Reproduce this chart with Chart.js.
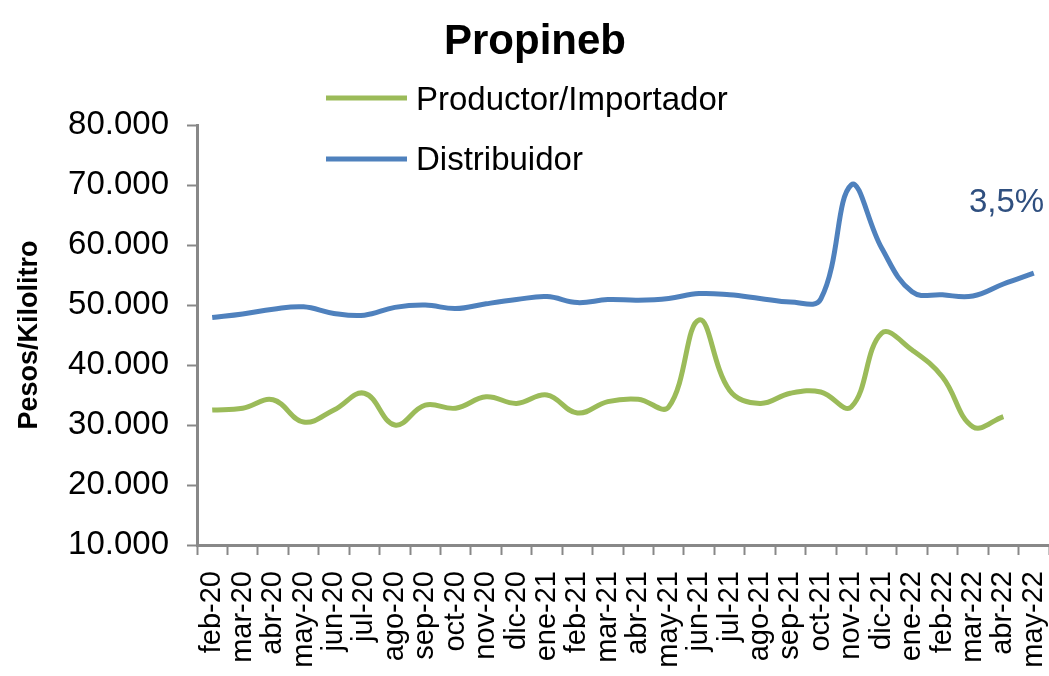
<!DOCTYPE html>
<html>
<head>
<meta charset="utf-8">
<script src="https://cdn.jsdelivr.net/npm/chart.js@4.4.0/dist/chart.umd.min.js"></script>
<style>
  html, body { margin: 0; padding: 0; background: #fff; }
  #wrap { width: 1049px; height: 676px; }
</style>
</head>
<body>
<div id="wrap"><canvas id="grafico" width="1049" height="676"></canvas></div>
<script>
// meses (eje x)
const meses = ['feb-20', 'mar-20', 'abr-20', 'may-20', 'jun-20', 'jul-20', 'ago-20', 'sep-20', 'oct-20', 'nov-20',
  'dic-20', 'ene-21', 'feb-21', 'mar-21', 'abr-21', 'may-21', 'jun-21', 'jul-21', 'ago-21', 'sep-21',
  'oct-21', 'nov-21', 'dic-21', 'ene-22', 'feb-22', 'mar-22', 'abr-22', 'may-22'];

// precios en pesos/kilolitro
const productor = [32500, 32800, 34200, 30500, 32500, 35300, 30000, 33300, 32800, 34700,
  33600, 35000, 32000, 33900, 34300, 33000, 47500, 35800, 33600, 35300,
  35500, 33000, 45300, 42500, 38000, 29700, 31400, null];

const distribuidor = [47900, 48500, 49300, 49700, 48600, 48300, 49600, 50000, 49400, 50200,
  50900, 51400, 50400, 50900, 50800, 51100, 51900, 51700, 51100, 50500,
  51000, 70000, 59500, 52200, 51700, 51500, 53500, 55300];

const ticksY = [10000, 20000, 30000, 40000, 50000, 60000, 70000, 80000];

const VERDE = '#9BBB59';
const AZUL = '#4F81BD';
const FUENTE = '"Liberation Sans", Arial, sans-serif';

// titulo, leyenda y nota "3,5%" dibujados a mano
const extras = {
  id: 'extras',
  afterDraw(chart) {
    const ctx = chart.ctx;
    ctx.save();
    ctx.fillStyle = '#000';
    ctx.font = 'bold 42px ' + FUENTE;
    ctx.textAlign = 'center';
    ctx.textBaseline = 'alphabetic';
    ctx.fillText('Propineb', 535, 54);

    // leyenda
    const items = [
      { txt: 'Productor/Importador', color: VERDE, y: 98, base: 110 },
      { txt: 'Distribuidor', color: AZUL, y: 159, base: 170 }
    ];
    ctx.textAlign = 'left';
    ctx.font = '33px ' + FUENTE;
    items.forEach(it => {
      ctx.strokeStyle = it.color;
      ctx.lineWidth = 5;
      ctx.beginPath();
      ctx.moveTo(326, it.y);
      ctx.lineTo(407, it.y);
      ctx.stroke();
      ctx.fillStyle = '#000';
      ctx.fillText(it.txt, 416, it.base);
    });

    ctx.fillStyle = '#2F4F7F';
    ctx.font = '33px ' + FUENTE;
    ctx.fillText('3,5%', 969, 212);
    ctx.restore();
  }
};

new Chart(document.getElementById('grafico'), {
  type: 'line',
  data: {
    labels: meses,
    datasets: [
      {
        label: 'Productor/Importador',
        data: productor,
        borderColor: VERDE,
        backgroundColor: VERDE,
        borderWidth: 5,
        pointRadius: 0,
        tension: 0.4,
        fill: false
      },
      {
        label: 'Distribuidor',
        data: distribuidor,
        borderColor: AZUL,
        backgroundColor: AZUL,
        borderWidth: 5,
        pointRadius: 0,
        tension: 0.4,
        fill: false
      }
    ]
  },
  options: {
    responsive: false,
    animation: false,
    layout: { padding: { top: 125, left: 0, right: 0, bottom: 0 } },
    plugins: {
      legend: { display: false },
      title: { display: false },
      tooltip: { enabled: false }
    },
    scales: {
      x: {
        type: 'category',
        offset: true,
        afterFit: s => { s.height = 131; s.paddingRight = 0; s.paddingLeft = 0; },
        grid: {
          offset: true,
          drawOnChartArea: false,
          drawTicks: true,
          tickLength: 10,
          tickColor: '#888',
          tickWidth: 2
        },
        border: { color: '#888', width: 3 },
        ticks: {
          autoSkip: false,
          maxRotation: 90,
          minRotation: 90,
          padding: 16,
          color: '#000',
          font: { family: FUENTE, size: 29 }
        }
      },
      y: {
        min: 10000,
        max: 80000,
        afterFit: s => { s.width = 197; },
        afterBuildTicks: s => { s.ticks = ticksY.map(v => ({ value: v })); },
        grid: {
          drawOnChartArea: false,
          drawTicks: true,
          tickLength: 10,
          tickColor: '#888',
          tickWidth: 2
        },
        border: { color: '#888', width: 3 },
        ticks: {
          padding: 18,
          color: '#000',
          font: { family: FUENTE, size: 33 },
          callback: v => v.toLocaleString('de-DE', { minimumFractionDigits: 0 }).replace(',', '.')
        },
        title: {
          display: true,
          text: 'Pesos/Kilolitro',
          color: '#000',
          font: { family: FUENTE, size: 27, weight: 'bold' },
          padding: { top: 13, bottom: 0 }
        }
      }
    }
  },
  plugins: [extras]
});
</script>
</body>
</html>
